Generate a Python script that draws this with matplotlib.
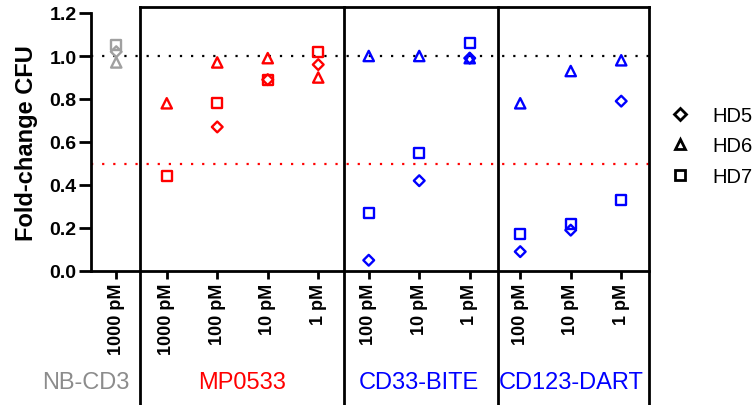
import numpy as np
import matplotlib
matplotlib.use("Agg")
import matplotlib.pyplot as plt
from matplotlib.lines import Line2D
from matplotlib import transforms

plt.rcParams['font.family'] = ['Liberation Sans', 'DejaVu Sans']

# x categories (dose) and groups
doses = ['1000 pM', '1000 pM', '100 pM', '10 pM', '1 pM',
         '100 pM', '10 pM', '1 pM',
         '100 pM', '10 pM', '1 pM']
groups = ['NB-CD3', 'MP0533', 'CD33-BITE', 'CD123-DART']
group_size = [1, 4, 3, 3]
group_colors = ['#a0a0a0', '#ff0000', '#0000ff', '#0000ff']
group_text_colors = ['#8c8c8c', '#ff0000', '#0000ff', '#0000ff']

# fold-change CFU per donor
hd5 = [1.02, np.nan, 0.67, 0.89, 0.96, 0.05, 0.42, 0.99, 0.09, 0.19, 0.79]
hd6 = [0.97, 0.78, 0.97, 0.99, 0.90, 1.00, 1.00, 0.99, 0.78, 0.93, 0.98]
hd7 = [1.05, 0.44, 0.78, 0.89, 1.02, 0.27, 0.55, 1.06, 0.17, 0.22, 0.33]

x = np.arange(len(doses))
pt_colors = []
for c, n in zip(group_colors, group_size):
    pt_colors += [c] * n

fig = plt.figure(figsize=(7.53, 4.06), dpi=100)
ax = fig.add_axes([91 / 753, 1 - 272 / 406, (649 - 91) / 753, (272 - 14) / 406])

# reference lines
ax.axhline(1.0, color='black', ls=(0, (1, 4)), lw=1.6, zorder=1)
ax.axhline(0.5, color='#ff0000', ls=(0, (1, 4)), lw=1.6, zorder=1)

mew = 1.7
ax.scatter(x, hd5, marker='D', s=30, facecolors='none', edgecolors=pt_colors, linewidths=mew, zorder=3)
ax.scatter(x, hd6, marker='^', s=55, facecolors='none', edgecolors=pt_colors, linewidths=mew, zorder=3)
ax.scatter(x, hd7, marker='s', s=52, facecolors='none', edgecolors=pt_colors, linewidths=mew, zorder=3)

ax.set_xlim(-0.5, 10.55)
ax.set_ylim(0, 1.2)
ax.set_yticks(np.arange(0, 1.21, 0.2))
ax.set_yticklabels(['%.1f' % v for v in np.arange(0, 1.21, 0.2)], fontsize=14, fontweight='bold')
ax.set_xticks(x)
ax.set_xticklabels(doses, rotation=90, fontsize=13, fontweight='bold')
ax.tick_params(axis='y', length=8.5, width=2, pad=2)
ax.tick_params(axis='x', length=5.5, width=2, pad=3)
for s in ['top', 'right']:
    ax.spines[s].set_visible(False)
for s in ['left', 'bottom']:
    ax.spines[s].set_linewidth(2)
ax.set_ylabel('Fold-change CFU', fontsize=17, fontweight='bold', labelpad=8)

# group boxes
trans = transforms.blended_transform_factory(ax.transData, fig.transFigure)
top = 1 - 8 / 406
bounds = [0.475, 4.51, 7.56, 10.55]
for b in bounds:
    ax.plot([b, b], [0, top], color='black', lw=2, transform=trans, clip_on=False)
ax.plot([bounds[0], bounds[-1]], [top, top], color='black', lw=2, transform=trans,
        clip_on=False, solid_capstyle='projecting')

# group labels
centers = [-0.6, 2.5, 6.0, 9.0]
for g, cx, col in zip(groups, centers, group_text_colors):
    ax.text(cx, 1 - 383 / 406, g, transform=trans, ha='center', va='center',
            fontsize=17, color=col)

# legend
handles = [Line2D([], [], marker=m, ls='none', mfc='none', mec='black', mew=2, ms=ms)
           for m, ms in [('D', 5.8), ('^', 7.8), ('s', 7.4)]]
fig.legend(handles, ['HD5', 'HD6', 'HD7'], loc='center left',
           bbox_to_anchor=(670 / 753, 1 - 147 / 406), frameon=False, fontsize=14.5,
           handlelength=1.0, handletextpad=1.1, labelspacing=0.55, borderpad=0, borderaxespad=0)

fig.savefig('out.png', dpi=100)
